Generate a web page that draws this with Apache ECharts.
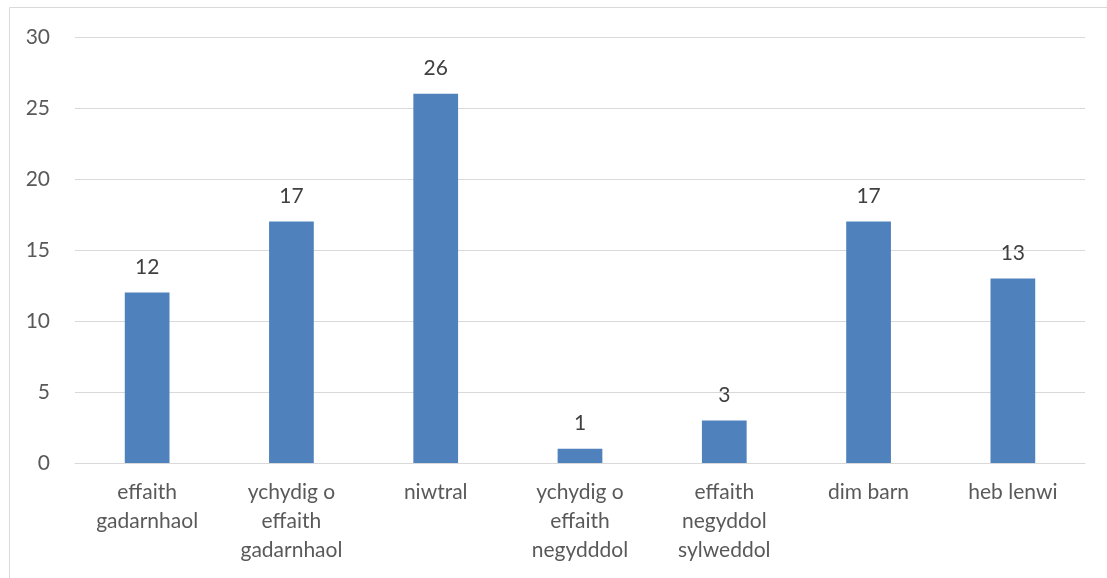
<!DOCTYPE html>
<html>
<head>
<meta charset="utf-8">
<style>html,body{margin:0;padding:0;background:#fff;}#c{width:1107px;height:578px;}</style>
<script src="https://cdn.jsdelivr.net/npm/echarts@6/dist/echarts.min.js"></script>
</head>
<body>
<div id="c"></div>
<script>
const categories = ["effaith\ngadarnhaol", "ychydig o\neffaith\ngadarnhaol", "niwtral", "ychydig o\neffaith\nnegydddol", "effaith\nnegyddol\nsylweddol", "dim barn", "heb lenwi"];
const values = [12, 17, 26, 1, 3, 17, 13];
const yTicks = [0, 5, 10, 15, 20, 25, 30];

const chart = echarts.init(document.getElementById('c'));
const font = "Lato, sans-serif";
chart.setOption({
  animation: false,
  graphic: [{
    type: 'rect', shape: {x: 9.5, y: 7.5, width: 1200, height: 700},
    style: {fill: 'none', stroke: '#d9d9d9', lineWidth: 1}, silent: true
  }],
  grid: {left: 75, right: 22, top: 37, bottom: 115, containLabel: false},
  xAxis: {
    type: 'category', data: categories,
    axisLine: {lineStyle: {color: '#d9d9d9', width: 1}},
    axisTick: {show: false},
    axisLabel: {color: '#595959', fontSize: 21, fontFamily: font, lineHeight: 29, margin: 15, interval: 0}
  },
  yAxis: {
    type: 'value', min: yTicks[0], max: yTicks[yTicks.length - 1], interval: 5,
    axisLine: {show: false}, axisTick: {show: false},
    splitLine: {lineStyle: {color: '#d9d9d9', width: 1}},
    axisLabel: {color: '#595959', fontSize: 21, fontFamily: font, margin: 25}
  },
  series: [{
    type: 'bar', data: values, barWidth: '31%',
    itemStyle: {color: '#4f81bd'},
    label: {show: true, position: 'top', distance: 15, color: '#404040', fontSize: 21, fontFamily: font}
  }]
});
</script>
</body>
</html>
